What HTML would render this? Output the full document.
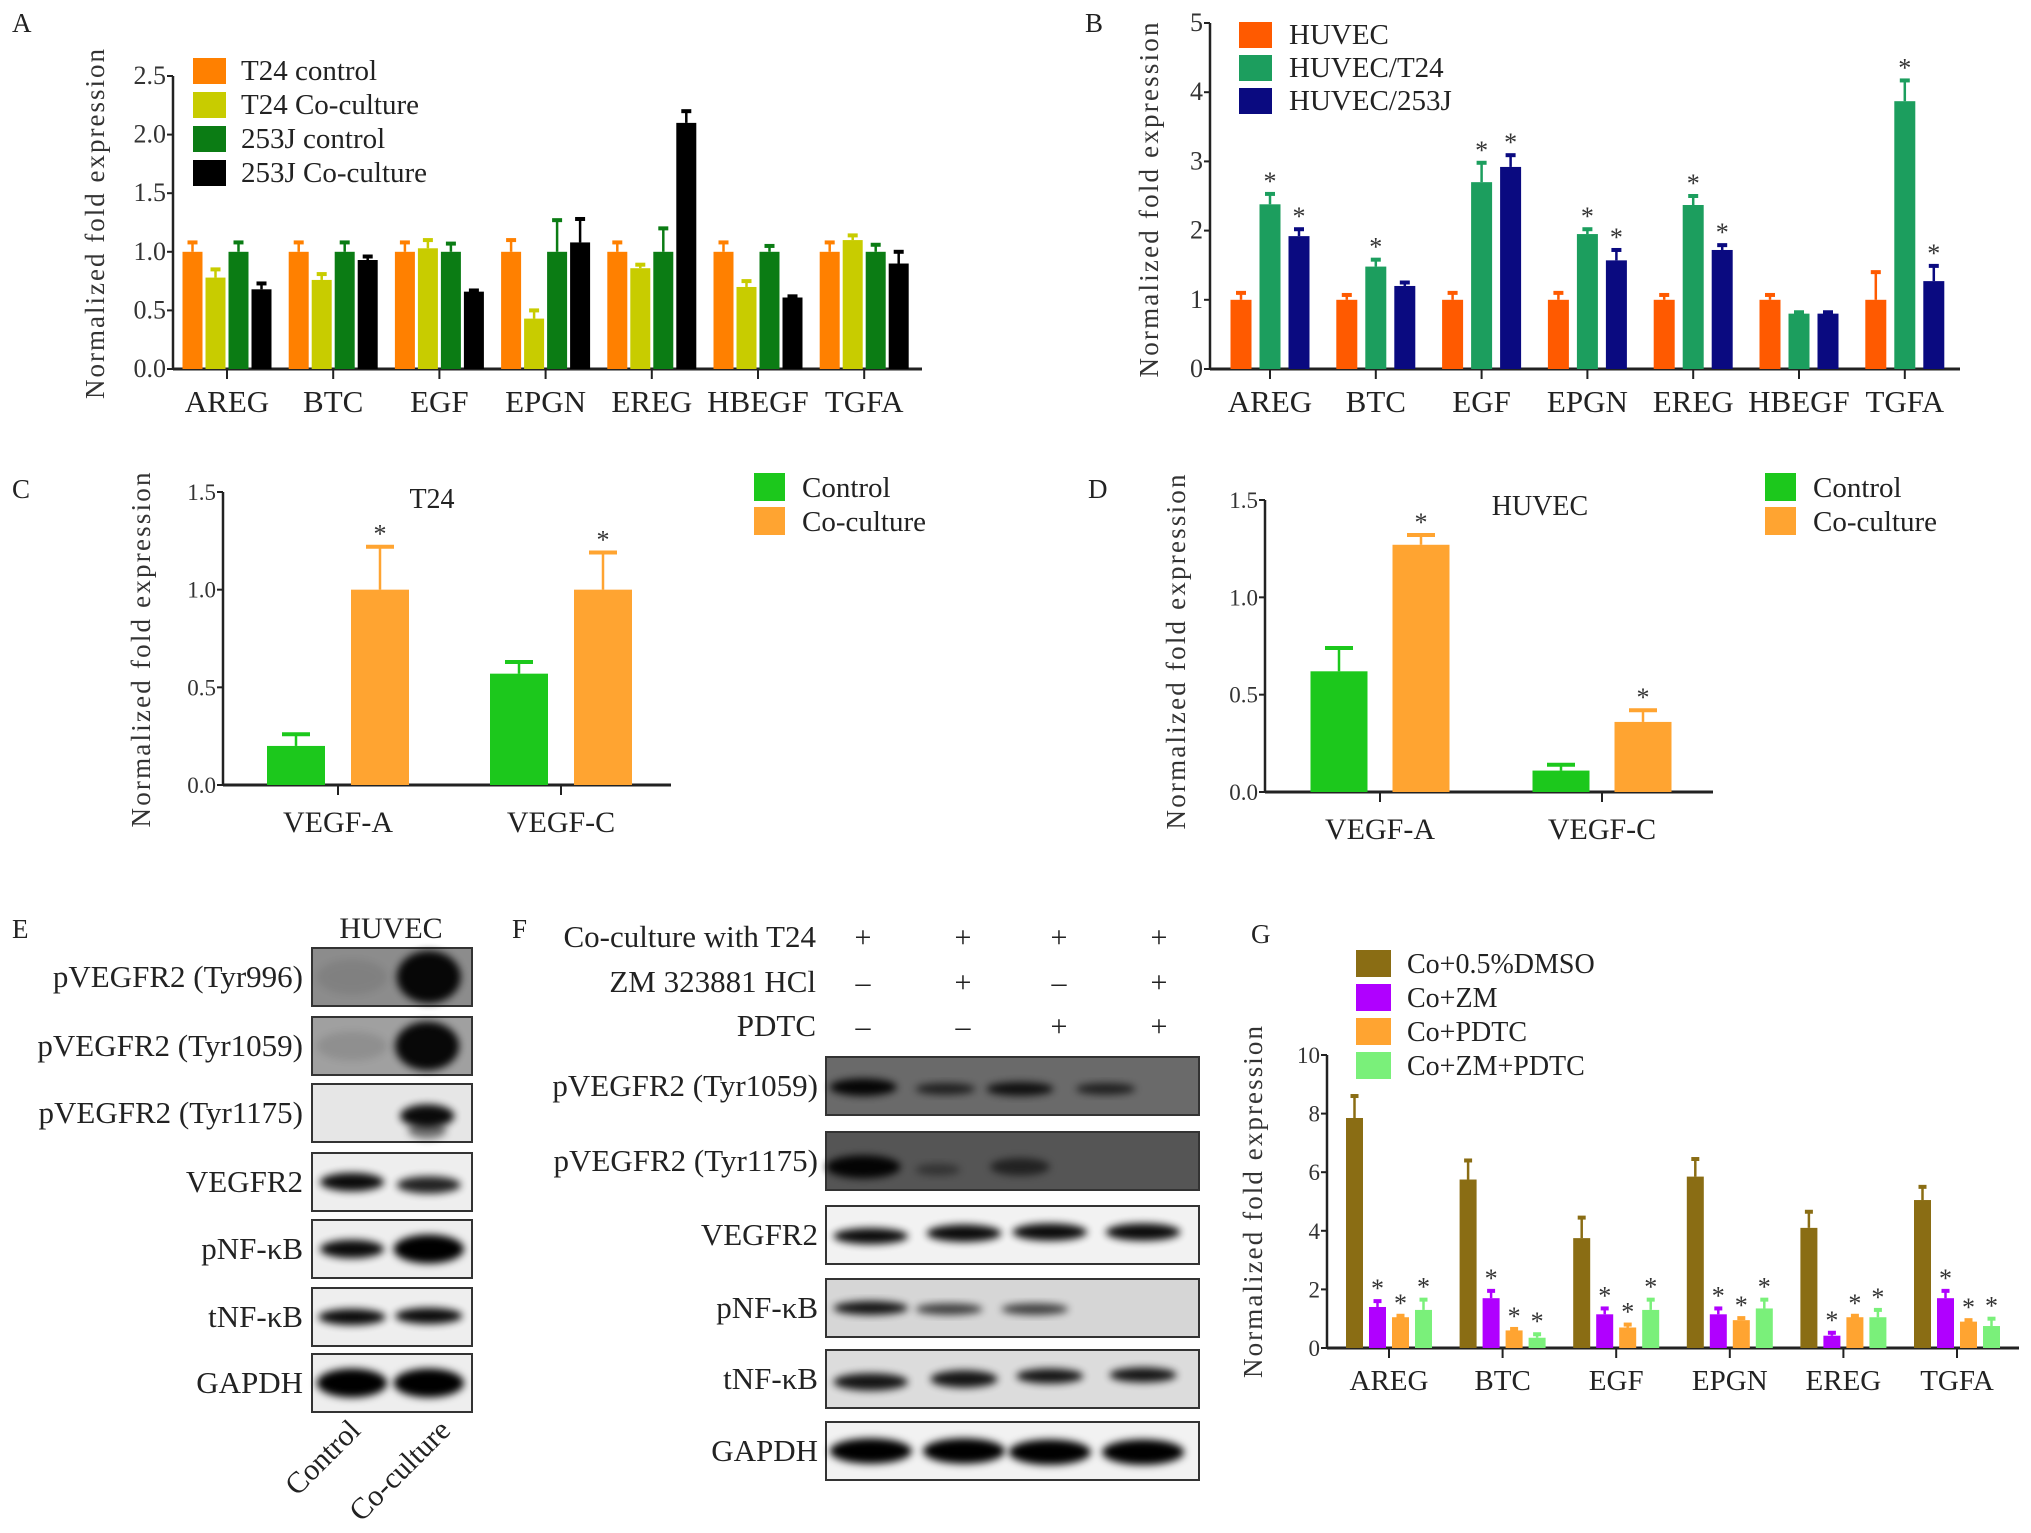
<!DOCTYPE html>
<html><head><meta charset="utf-8">
<style>
body{margin:0;background:#fff;}
svg{display:block;font-family:"Liberation Serif",serif;}
</style></head>
<body>
<svg id="fig" width="2031" height="1533" viewBox="0 0 2031 1533" xmlns="http://www.w3.org/2000/svg">
<defs>
<filter id="blur3" x="-20%" y="-50%" width="140%" height="200%"><feGaussianBlur stdDeviation="4"/></filter>
</defs>
</svg>
<script>
const NS="http://www.w3.org/2000/svg";
const svg=document.getElementById('fig');
function el(tag,attrs,parent,text){const e=document.createElementNS(NS,tag);for(const k in attrs)e.setAttribute(k,attrs[k]);if(text!==undefined)e.textContent=text;(parent||svg).appendChild(e);return e;}

// ---------- DATA ----------
const catsA=["AREG","BTC","EGF","EPGN","EREG","HBEGF","TGFA"];
const seriesA=["T24 control","T24 Co-culture","253J control","253J Co-culture"];
const valsA_t24c=[1,1,1,1,1,1,1];
const valsA_t24co=[0.78,0.76,1.03,0.43,0.86,0.70,1.10];
const valsA_253c=[1,1,1,1,1,1,1];
const valsA_253co=[0.68,0.93,0.66,1.08,2.10,0.61,0.90];
const errA_t24c=[0.08,0.08,0.08,0.1,0.08,0.08,0.08];
const errA_t24co=[0.07,0.05,0.07,0.07,0.03,0.05,0.04];
const errA_253c=[0.08,0.08,0.07,0.27,0.2,0.05,0.06];
const errA_253co=[0.05,0.03,0.01,0.2,0.1,0.01,0.1];
const ticksA=["0.0","0.5","1.0","1.5","2.0","2.5"];

const catsB=["AREG","BTC","EGF","EPGN","EREG","HBEGF","TGFA"];
const seriesB=["HUVEC","HUVEC/T24","HUVEC/253J"];
const valsB_huvec=[1,1,1,1,1,1,1];
const valsB_t24=[2.38,1.48,2.70,1.95,2.37,0.80,3.87];
const valsB_253=[1.92,1.20,2.92,1.57,1.72,0.80,1.27];
const errB_huvec=[0.1,0.07,0.1,0.1,0.07,0.07,0.4];
const errB_t24=[0.15,0.1,0.28,0.07,0.13,0.02,0.3];
const errB_253=[0.1,0.05,0.17,0.15,0.07,0.02,0.22];
const starB_t24=[1,1,1,1,1,0,1];
const starB_253=[1,0,1,1,1,0,1];
const ticksB=["0","1","2","3","4","5"];

const catsC=["VEGF-A","VEGF-C"];
const valsC_ctrl=[0.20,0.57];
const valsC_co=[1.00,1.00];
const errC_ctrl=[0.06,0.06];
const errC_co=[0.22,0.19];
const catsD=["VEGF-A","VEGF-C"];
const valsD_ctrl=[0.62,0.11];
const valsD_co=[1.27,0.36];
const errD_ctrl=[0.12,0.03];
const errD_co=[0.05,0.06];
const ticksCD=["0.0","0.5","1.0","1.5"];

const catsG=["AREG","BTC","EGF","EPGN","EREG","TGFA"];
const seriesG=["Co+0.5%DMSO","Co+ZM","Co+PDTC","Co+ZM+PDTC"];
const valsG_dmso=[7.85,5.75,3.75,5.85,4.10,5.05];
const valsG_zm=[1.40,1.70,1.15,1.15,0.42,1.70];
const valsG_pdtc=[1.05,0.60,0.70,0.95,1.05,0.90];
const valsG_both=[1.30,0.35,1.30,1.35,1.05,0.75];
const errG_dmso=[0.75,0.65,0.7,0.6,0.55,0.45];
const errG_zm=[0.2,0.25,0.2,0.2,0.1,0.25];
const errG_pdtc=[0.05,0.05,0.1,0.07,0.05,0.05];
const errG_both=[0.35,0.12,0.35,0.3,0.25,0.25];
const ticksG=["0","2","4","6","8","10"];

// ---------- generic chart ----------
function chart(cfg){
  const g=el('g',{},svg);
  
  
  const y=v=>cfg.y0-(v/cfg.vmax)*(cfg.y0-cfg.yTop);
  const ya=el('line',{x1:cfg.ax,y1:cfg.yTop,x2:cfg.ax,y2:cfg.y0+1,stroke:'#222','stroke-width':2.5},g);
  
  const xa=el('line',{x1:cfg.ax,y1:cfg.y0,x2:cfg.axEnd,y2:cfg.y0,stroke:'#222','stroke-width':3},g);
  
  cfg.ticks.forEach((t,i)=>{
    const v=parseFloat(t);const yy=y(v);
    el('line',{x1:cfg.ax-6,y1:yy,x2:cfg.ax,y2:yy,stroke:'#222','stroke-width':2},g);
    const tl=el('text',{x:cfg.ax-7,y:yy+8,'text-anchor':'end','font-size':cfg.tickFs||26,fill:'#333'},g,t);
    
  });
  const n=cfg.series.length;
  cfg.cats.forEach((c,ci)=>{
    const cx=cfg.cx0+ci*cfg.step;
    el('line',{x1:cx,y1:cfg.y0,x2:cx,y2:cfg.y0+10,stroke:'#222','stroke-width':2},g);
    const xl=el('text',{x:cx,y:cfg.y0+cfg.labDy,'text-anchor':'middle','font-size':cfg.labFs,fill:'#222'},g,c);
    
    cfg.series.forEach((s,si)=>{
      const bx=cx+(si-(n-1)/2)*cfg.bstep-cfg.bw/2;
      const v=s.vals[ci],e=s.err[ci];
      const yt=y(v),ye=y(v+e);
      const bar=el('rect',{x:bx,y:yt,width:cfg.bw,height:cfg.y0-yt,fill:s.color},g);
      
      
      el('line',{x1:bx+cfg.bw/2,y1:yt,x2:bx+cfg.bw/2,y2:ye,stroke:s.color,'stroke-width':2.5},g);
      el('line',{x1:bx+cfg.bw/2-cfg.capw,y1:ye,x2:bx+cfg.bw/2+cfg.capw,y2:ye,stroke:s.color,'stroke-width':4},g);
      if(s.star&&s.star[ci]){
        const st=el('text',{x:bx+cfg.bw/2,y:ye-4+cfg.starDy,'text-anchor':'middle','font-size':cfg.starFs||26,fill:'#333'},g,'*');
        
      }
    });
  });
  const yt=el('text',{x:0,y:0,'font-size':cfg.ytFs||27,fill:'#333','text-anchor':'middle',textLength:cfg.ytLen,lengthAdjust:'spacing',transform:`translate(${cfg.ytx},${cfg.yty}) rotate(-90)`},g,'Normalized fold expression');
  
  cfg.series.forEach((s,si)=>{
    const ly=cfg.legY+si*cfg.legStep;
    const sw=el('rect',{x:cfg.legX,y:ly,width:cfg.legW,height:cfg.legH,fill:s.color},g);
    
    const lt=el('text',{x:cfg.legX+cfg.legW+cfg.legGap,y:ly+cfg.legH-4,'font-size':cfg.legFs,fill:'#222'},g,s.name);
    
  });
  if(cfg.title){const tt=el('text',{x:cfg.title[1],y:cfg.title[2],'text-anchor':'middle','font-size':28,fill:'#222'},g,cfg.title[0]);
    }
  const pl=el('text',{x:cfg.panel[1],y:cfg.panel[2],'font-size':27,fill:'#222'},g,cfg.panel[0]);
  
}

chart({name:'chart-a',ax:173,axEnd:922,y0:369,yTop:76,vmax:2.5,ticks:ticksA,cats:catsA,cx0:227,step:106.2,bw:20,bstep:23,capw:5,labDy:43,labFs:31,starDy:0,
  series:[{name:seriesA[0],color:'#ff8000',vals:valsA_t24c,err:errA_t24c},{name:seriesA[1],color:'#c8cc00',vals:valsA_t24co,err:errA_t24co},{name:seriesA[2],color:'#0b7c14',vals:valsA_253c,err:errA_253c},{name:seriesA[3],color:'#000',vals:valsA_253co,err:errA_253co}],
  ytx:104,yty:224,ytLen:350,legX:193,legY:58,legStep:34,legW:33,legH:26,legGap:15,legFs:29,panel:['A',12,32]});

chart({name:'chart-b',ax:1210,axEnd:1960,y0:369,yTop:23,vmax:5,ticks:ticksB,cats:catsB,cx0:1270,step:105.8,bw:21,bstep:29,capw:5,labDy:43,labFs:31,starDy:0,
  series:[{name:seriesB[0],color:'#ff5a00',vals:valsB_huvec,err:errB_huvec},{name:seriesB[1],color:'#1c9e5e',vals:valsB_t24,err:errB_t24,star:starB_t24},{name:seriesB[2],color:'#0a0a80',vals:valsB_253,err:errB_253,star:starB_253}],
  ytx:1158,yty:200,ytLen:355,legX:1239,legY:22,legStep:33,legW:33,legH:26,legGap:17,legFs:29,panel:['B',1085,32]});

chart({name:'chart-c',ax:223,axEnd:671,y0:785,yTop:492,vmax:1.5,ticks:ticksCD,cats:catsC,cx0:338,step:223,bw:58,bstep:84,capw:14,labDy:47,labFs:30,starDy:0,tickFs:23,
  series:[{name:'Control',color:'#1cc81c',vals:valsC_ctrl,err:errC_ctrl},{name:'Co-culture',color:'#ffa431',vals:valsC_co,err:errC_co,star:[1,1]}],
  ytx:150,yty:650,ytLen:355,legX:754,legY:473,legStep:34,legW:31,legH:28,legGap:17,legFs:29,title:['T24',432,508],panel:['C',12,498]});

chart({name:'chart-d',ax:1265,axEnd:1713,y0:792,yTop:500,vmax:1.5,ticks:ticksCD,cats:catsD,cx0:1380,step:222,bw:57,bstep:82,capw:14,labDy:47,labFs:30,starDy:0,tickFs:23,
  series:[{name:'Control',color:'#1cc81c',vals:valsD_ctrl,err:errD_ctrl},{name:'Co-culture',color:'#ffa431',vals:valsD_co,err:errD_co,star:[1,1]}],
  ytx:1185,yty:652,ytLen:355,legX:1765,legY:473,legStep:34,legW:31,legH:28,legGap:17,legFs:29,title:['HUVEC',1540,515],panel:['D',1088,498]});

chart({name:'chart-g',ax:1327,axEnd:2019,y0:1348,yTop:1055,vmax:10,ticks:ticksG,cats:catsG,cx0:1389,step:113.6,bw:17,bstep:23,capw:4,labDy:42,labFs:29,starDy:0,tickFs:23,
  series:[{name:seriesG[0],color:'#8a6d14',vals:valsG_dmso,err:errG_dmso},{name:seriesG[1],color:'#b000ff',vals:valsG_zm,err:errG_zm,star:[1,1,1,1,1,1]},{name:seriesG[2],color:'#ffa431',vals:valsG_pdtc,err:errG_pdtc,star:[1,1,1,1,1,1]},{name:seriesG[3],color:'#7af07a',vals:valsG_both,err:errG_both,star:[1,1,1,1,1,1]}],
  ytx:1262,yty:1202,ytLen:352,legX:1356,legY:950,legStep:34,legW:35,legH:27,legGap:16,legFs:28,panel:['G',1251,943]});

// ---------- Western blots ----------
function blot(name,x,y,w,h,bg,bands){
  const g=el('g',{},svg);
  
  
  el('rect',{x:x,y:y,width:w,height:h,fill:bg,stroke:'#333','stroke-width':2},g);
  bands.forEach(b=>{
    el('ellipse',{cx:x+b[0]*w,cy:y+b[1]*h,rx:b[2]*w,ry:b[3]*h,fill:'#000',opacity:b[4],filter:'url(#blur3)'},g);
  });
}
function lab(t,x,y,fs,anchor,name){const e=el('text',{x:x,y:y,'font-size':fs,'text-anchor':anchor||'end',fill:'#222'},svg,t);
  return e;}

// Panel E
lab('E',12,938,27,'start','panel-label-e');
lab('HUVEC',391,938,30,'middle','blot-header-huvec');
const eRows=[['pVEGFR2 (Tyr996)',948,'#8c8c8c',[[0.25,0.5,0.22,0.3,0.08],[0.73,0.5,0.2,0.45,0.95]]],
 ['pVEGFR2 (Tyr1059)',1017,'#a0a0a0',[[0.25,0.5,0.22,0.25,0.1],[0.72,0.5,0.2,0.42,0.95]]],
 ['pVEGFR2 (Tyr1175)',1084,'#e6e6e6',[[0.72,0.55,0.17,0.2,0.95],[0.72,0.8,0.12,0.15,0.5]]],
 ['VEGFR2',1153,'#eeeeee',[[0.25,0.5,0.2,0.16,0.95],[0.73,0.55,0.2,0.15,0.85]]],
 ['pNF-κB',1220,'#eeeeee',[[0.25,0.5,0.2,0.16,0.95],[0.73,0.5,0.22,0.25,1]]],
 ['tNF-κB',1288,'#eeeeee',[[0.25,0.5,0.21,0.14,0.95],[0.73,0.48,0.21,0.14,0.95]]],
 ['GAPDH',1354,'#eeeeee',[[0.25,0.5,0.22,0.25,1],[0.73,0.5,0.22,0.25,1]]]];
eRows.forEach(r=>{blot('blot-e-'+r[0],312,r[1],160,58,r[2],r[3]);lab(r[0],303,r[1]+39,31,'end','blot-label');});
const rc=el('text',{x:0,y:0,'font-size':30,fill:'#222','text-anchor':'end',transform:'translate(362,1432) rotate(-45)'},svg,'Control');

const rco=el('text',{x:0,y:0,'font-size':30,fill:'#222','text-anchor':'end',transform:'translate(452,1432) rotate(-45)'},svg,'Co-culture');


// Panel F
lab('F',512,938,27,'start','panel-label-f');
const fHdr=[['Co-culture with T24',['+','+','+','+'],947],['ZM 323881 HCl',['–','+','–','+'],992],['PDTC',['–','–','+','+'],1036]];
const fCols=[863,963,1059,1159];
fHdr.forEach(h=>{lab(h[0],816,h[2],31,'end','treatment-label');h[1].forEach((s,i)=>lab(s,fCols[i],h[2],30,'middle','treatment-sign'));});
const fRows=[['pVEGFR2 (Tyr1059)',1057,'#6a6a6a',[[0.1,0.52,0.09,0.15,0.95],[0.32,0.55,0.08,0.1,0.7],[0.52,0.55,0.09,0.12,0.85],[0.75,0.55,0.08,0.1,0.7]]],
 ['pVEGFR2 (Tyr1175)',1132,'#555555',[[0.1,0.6,0.1,0.2,0.95],[0.3,0.65,0.06,0.1,0.4],[0.52,0.6,0.08,0.15,0.6]]],
 ['VEGFR2',1206,'#f2f2f2',[[0.12,0.52,0.1,0.14,0.95],[0.37,0.47,0.1,0.15,0.95],[0.6,0.45,0.1,0.15,0.95],[0.85,0.45,0.1,0.15,0.95]]],
 ['pNF-κB',1279,'#d6d6d6',[[0.12,0.5,0.1,0.12,0.9],[0.33,0.52,0.09,0.1,0.7],[0.56,0.52,0.09,0.1,0.7]]],
 ['tNF-κB',1350,'#dcdcdc',[[0.12,0.55,0.1,0.15,0.9],[0.37,0.5,0.09,0.15,0.9],[0.6,0.45,0.09,0.13,0.9],[0.85,0.43,0.09,0.13,0.9]]],
 ['GAPDH',1422,'#f2f2f2',[[0.12,0.5,0.11,0.22,1],[0.37,0.5,0.11,0.22,1],[0.6,0.52,0.11,0.22,1],[0.85,0.52,0.11,0.22,1]]]];
fRows.forEach(r=>{blot('blot-f-'+r[0],826,r[1],373,58,r[2],r[3]);lab(r[0],818,r[1]+39,31,'end','blot-label');});
</script>
</body></html>
